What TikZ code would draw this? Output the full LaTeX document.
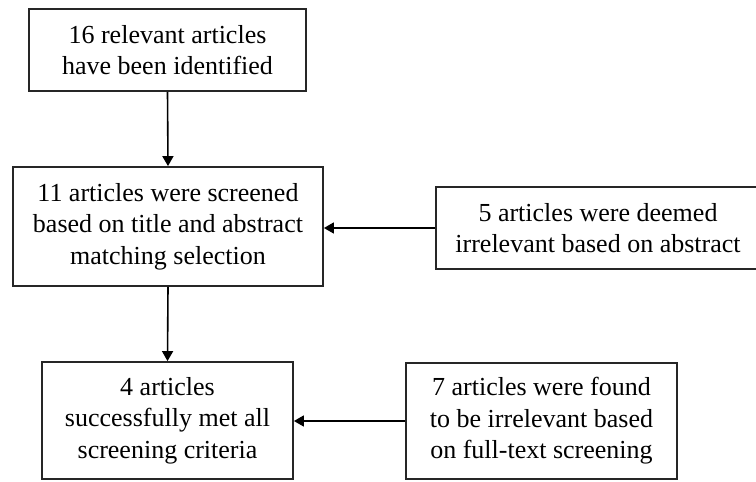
\documentclass[tikz,border=0pt]{standalone}
\usepackage{fontspec}
\setmainfont{Liberation Serif}
\usetikzlibrary{arrows.meta}
\begin{document}
\begin{tikzpicture}[x=1pt,y=-1pt,
  box/.style={draw=black!85, line width=1.8pt, fill=white, align=center, inner sep=0pt,
    font=\fontsize{26}{31.5}\selectfont},
  arr/.style={draw=black, line width=1.6pt, -{Triangle[length=10pt,width=11pt]}}]
\useasboundingbox[fill=white] (0,0) rectangle (756,482);
\node[box, minimum width=277, minimum height=82] (b1) at (167.5,50) {16 relevant articles\\have been identified};
\node[box, minimum width=310, minimum height=119] (b2) at (168,226.5) {11 articles were screened\\based on title and abstract\\matching selection};
\node[box, minimum width=324, minimum height=82] (b3) at (598,228) {5 articles were deemed\\irrelevant based on abstract};
\node[box, minimum width=251, minimum height=117] (b4) at (167.5,420.5) {4 articles\\successfully met all\\screening criteria};
\node[box, minimum width=271, minimum height=116] (b5) at (541.5,421) {7 articles were found\\to be irrelevant based\\on full-text screening};
\draw[arr] (b1.south) -- (b2.north);
\draw[arr] (b2.south) -- (b4.north);
\draw[arr] (b3.west) -- (b3.west -| b2.east);
\draw[arr] (b5.west) -- (b5.west -| b4.east);
\end{tikzpicture}
\end{document}
